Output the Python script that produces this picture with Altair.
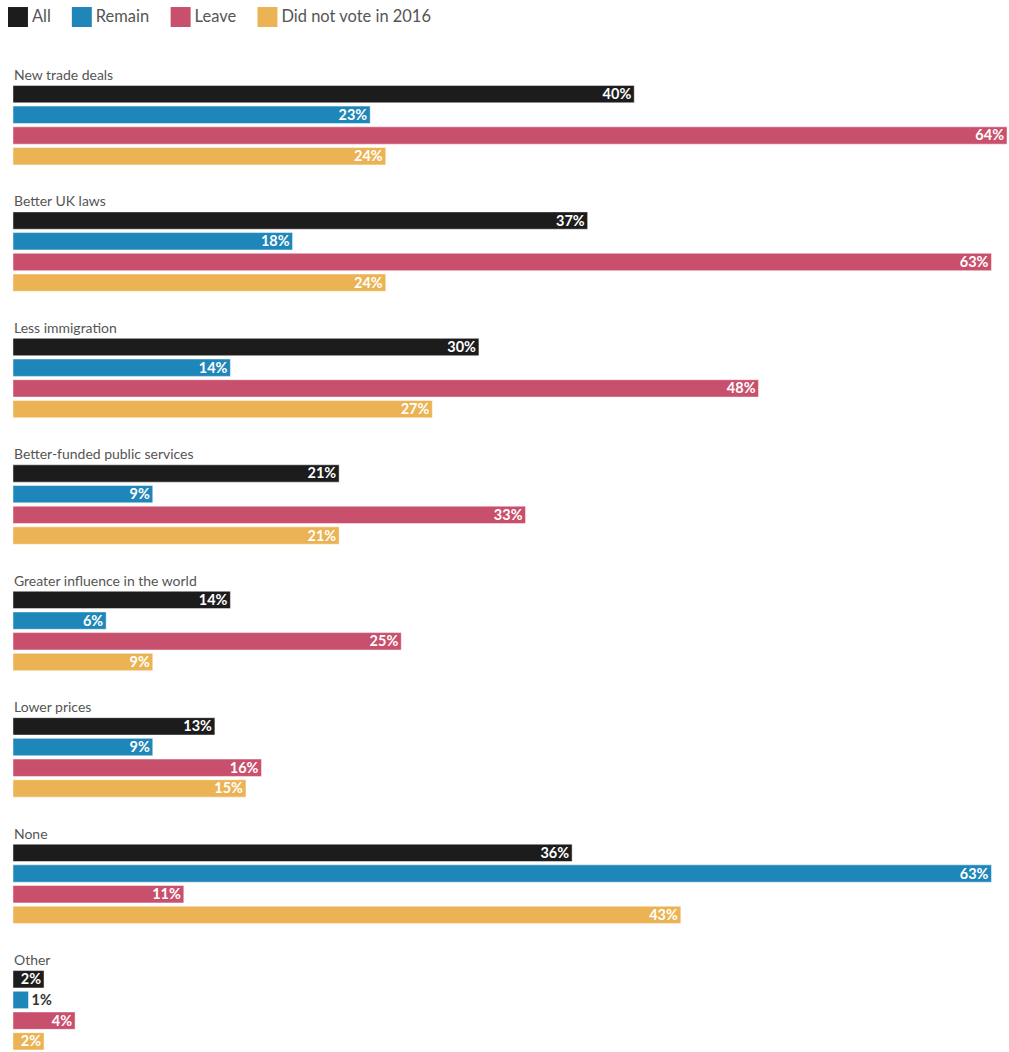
import altair as alt
import pandas as pd

categories = [
    "New trade deals",
    "Better UK laws",
    "Less immigration",
    "Better-funded public services",
    "Greater influence in the world",
    "Lower prices",
    "None",
    "Other",
]
series = ["All", "Remain", "Leave", "Did not vote in 2016"]
colors = ["#1c1c1c", "#1f86b9", "#c8506d", "#ebb353"]

all_vals = [40, 37, 30, 21, 14, 13, 36, 2]
remain_vals = [23, 18, 14, 9, 6, 9, 63, 1]
leave_vals = [64, 63, 48, 33, 25, 16, 11, 4]
dnv_vals = [24, 24, 27, 21, 9, 15, 43, 2]

rows = []
for i, c in enumerate(categories):
    rows.append({"category": c, "series": "_label", "value": 0, "label": c})
    for s, vals in zip(series, [all_vals, remain_vals, leave_vals, dnv_vals]):
        rows.append({"category": c, "series": s, "value": vals[i], "label": f"{vals[i]}%"})
df = pd.DataFrame(rows)

FONT = "Lato"
ydomain = ["_label"] + series

base = alt.Chart(df).encode(
    y=alt.Y("series:N", sort=ydomain, axis=None,
            scale=alt.Scale(domain=ydomain, paddingInner=0.16, paddingOuter=0.04)),
)

bars = base.transform_filter("datum.series != '_label'").mark_bar(
    stroke="white", strokeWidth=0.8, strokeOpacity=0.6
).encode(
    x=alt.X("value:Q", axis=None, scale=alt.Scale(domain=[0, 64], nice=False, zero=True)),
    color=alt.Color(
        "series:N",
        sort=series,
        scale=alt.Scale(domain=series, range=colors),
        legend=alt.Legend(
            title=None,
            orient="top",
            direction="horizontal",
            symbolType="square",
            symbolSize=400,
            symbolStrokeWidth=0,
            symbolOpacity=1,
            symbolOffset=-5,
            labelFontSize=16.5,
            labelColor="#555555",
            labelFont=FONT,
            columnPadding=21,
            labelOffset=4,
            offset=37.5,
        ),
    ),
)

cat_labels = base.transform_filter("datum.series == '_label'").mark_text(
    align="left", baseline="middle", dx=1, dy=2.5, color="#555555",
    fontSize=14, font=FONT,
).encode(x=alt.value(0), text="label:N")

inside = base.transform_filter("datum.series != '_label' && datum.value >= 2").mark_text(
    align="right", baseline="middle", dx=-3, dy=1, color="white",
    fontSize=14.5, fontWeight="bold", font=FONT,
).encode(x="value:Q", text="label:N")

outside = base.transform_filter("datum.series != '_label' && datum.value < 2").mark_text(
    align="left", baseline="middle", dx=3, dy=1, color="#333333",
    fontSize=14.5, fontWeight="bold", font=FONT,
).encode(x="value:Q", text="label:N")

chart = (
    alt.layer(bars, cat_labels, inside, outside)
    .properties(width=996, height=102)
    .facet(
        row=alt.Row(
            "category:N",
            sort=categories,
            header=alt.Header(title=None, labels=False),
        ),
        spacing=24.7,
    )
    .properties(padding={"left": 12, "top": 6, "right": 1, "bottom": 0})
    .configure_view(stroke=None)
)

chart.save("out.html", embed_options={"renderer": "svg", "actions": False})
